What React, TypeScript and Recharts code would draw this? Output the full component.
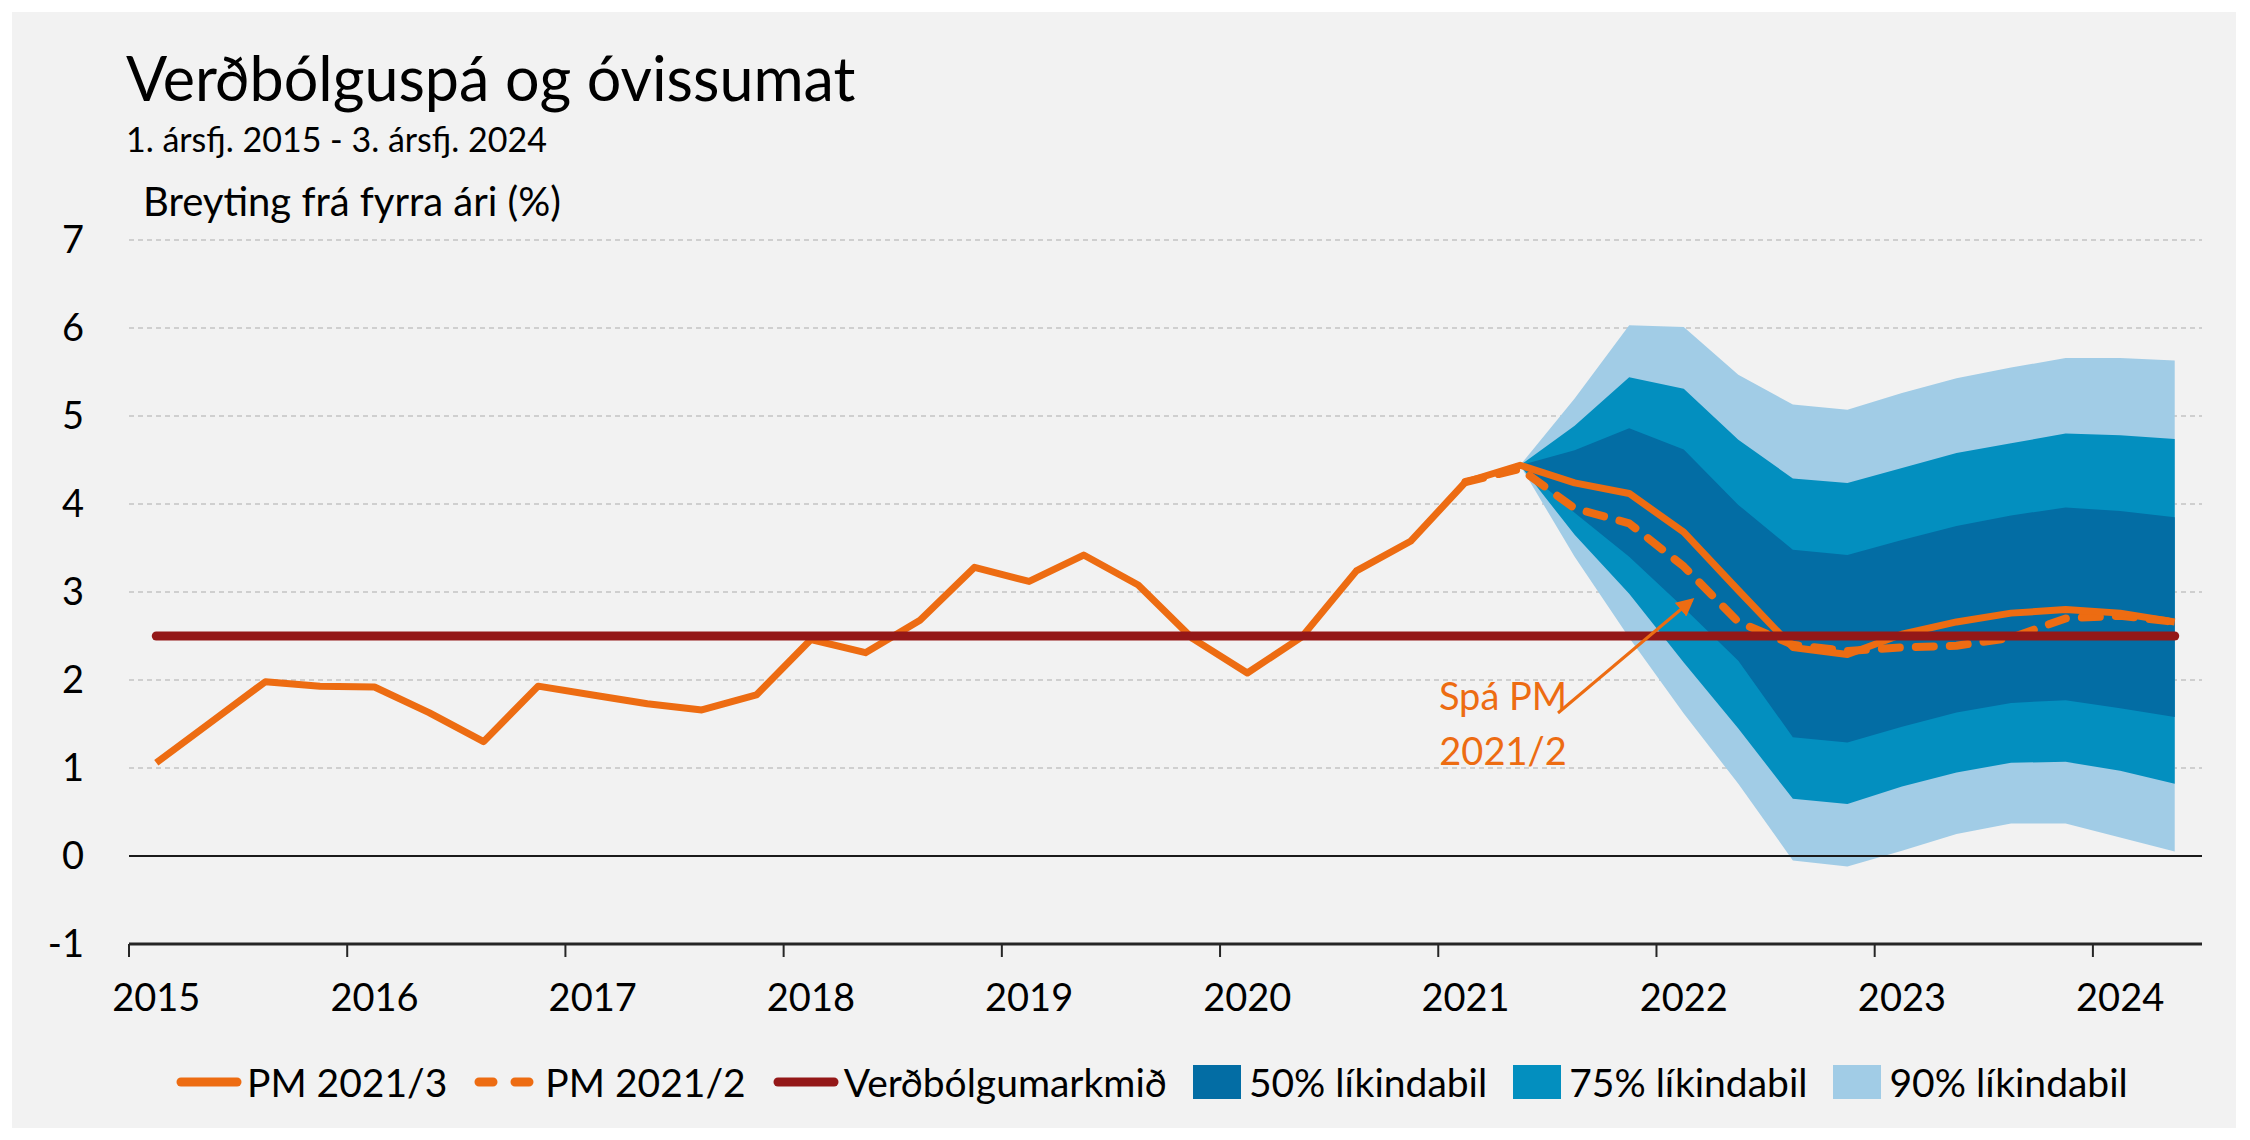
import React from "react";
import { ComposedChart, Area, Line, XAxis, YAxis, CartesianGrid, ReferenceLine } from "recharts";

const FONT = "Lato, 'Open Sans', sans-serif";

const YEARS = ["2015", "2016", "2017", "2018", "2019", "2020", "2021", "2022", "2023", "2024"];
const QUARTERS = YEARS.flatMap((y) => ["Q1", "Q2", "Q3", "Q4"].map((q) => `${y}${q}`)).slice(0, 38);
const Y_TICKS = [-1, 0, 1, 2, 3, 4, 5, 6, 7];

// PM 2021/3: actual + forecast, one value per quarter
const PM_2021_3 = [
  1.06, 1.52, 1.98, 1.93, 1.92, 1.63, 1.30, 1.93, 1.83, 1.73, 1.66, 1.83,
  2.46, 2.31, 2.68, 3.28, 3.12, 3.42, 3.08, 2.47, 2.08, 2.49, 3.24, 3.58,
  4.25, 4.44, 4.24, 4.12, 3.68, 3.02, 2.37, 2.29, 2.52, 2.66, 2.76, 2.80,
  2.76, 2.66,
];

// PM 2021/2 forecast, starts at 2021Q1
const DASH_START = 24;
const PM_2021_2 = [4.25, 4.40, 3.95, 3.78, 3.29, 2.66, 2.40, 2.33, 2.37, 2.39, 2.48, 2.70, 2.73, 2.66];

const TARGET = 2.5;

// fan chart, starts at 2021Q2
const FAN_START = 25;
const HI90 = [4.44, 5.20, 6.03, 6.01, 5.47, 5.13, 5.07, 5.26, 5.43, 5.55, 5.66, 5.66, 5.63];
const HI75 = [4.44, 4.89, 5.44, 5.31, 4.73, 4.29, 4.24, 4.41, 4.58, 4.69, 4.80, 4.78, 4.74];
const HI50 = [4.44, 4.61, 4.86, 4.62, 3.99, 3.48, 3.42, 3.59, 3.75, 3.87, 3.96, 3.92, 3.85];
const LO50 = [4.44, 3.90, 3.40, 2.82, 2.22, 1.35, 1.29, 1.47, 1.63, 1.74, 1.77, 1.68, 1.58];
const LO75 = [4.44, 3.65, 2.98, 2.20, 1.45, 0.65, 0.59, 0.79, 0.95, 1.06, 1.07, 0.97, 0.82];
const LO90 = [4.44, 3.40, 2.48, 1.62, 0.82, -0.05, -0.12, 0.06, 0.25, 0.37, 0.37, 0.21, 0.05];

const ORANGE = "#ED6C12";
const RED = "#941818";
const C50 = "#036DA4";
const C75 = "#038FBF";
const C90 = "#A1CCE6";

const data = QUARTERS.map((q, i) => {
  const f = i - FAN_START;
  const fan = f >= 0 && f < HI90.length;
  const d = i - DASH_START;
  return {
    q,
    x: i + 0.5,
    pm3: PM_2021_3[i],
    pm2: d >= 0 && d < PM_2021_2.length ? PM_2021_2[d] : null,
    target: TARGET,
    b90: fan ? [LO90[f], HI90[f]] : null,
    b75: fan ? [LO75[f], HI75[f]] : null,
    b50: fan ? [LO50[f], HI50[f]] : null,
  };
});

const W = 2234;
const H = 1040;
const MARGIN = { top: 232, right: 40, bottom: 44, left: 41 };
const Y_W = 80;
const CAT_W = (W - MARGIN.left - MARGIN.right - Y_W) / QUARTERS.length;

function YearTick(props: any) {
  const { x, y, payload } = props;
  return (
    <text x={x + CAT_W / 2} y={y + 52} textAnchor="middle" fontFamily={FONT} fontSize={38} fill="#000">
      {YEARS[payload.value / 4]}
    </text>
  );
}

function LegendItem({ kind, color, label }: { kind: string; color: string; label: string }) {
  let sym;
  if (kind === "box") {
    sym = (
      <svg width={48} height={34} style={{ marginRight: 8 }}>
        <rect x={0} y={0} width={48} height={34} fill={color} />
      </svg>
    );
  } else {
    sym = (
      <svg width={68} height={16} style={{ marginRight: 4 }}>
        <line x1={6} y1={8} x2={62} y2={8} stroke={color} strokeWidth={9} strokeLinecap="round"
          strokeDasharray={kind === "dash" ? "14 22" : undefined} />
      </svg>
    );
  }
  return (
    <div style={{ display: "flex", alignItems: "center", marginRight: 26 }}>
      {sym}
      <span>{label}</span>
    </div>
  );
}

export default function App() {
  return (
    <div style={{ position: "relative", width: W, height: 1124, background: "#fff" }}>
      <div style={{ position: "absolute", left: 4, top: 4, width: 2224, height: 1116, background: "#F2F2F2" }} />
      <div style={{ position: "absolute", left: 0, top: 0 }}>
        <ComposedChart width={W} height={H} data={data} margin={MARGIN}>
          <CartesianGrid horizontal vertical={false} stroke="#C4C4C4" strokeWidth={1.5} strokeDasharray="5 4" />
          <XAxis
            dataKey="x"
            type="number"
            domain={[0, QUARTERS.length]}
            ticks={YEARS.map((_, i) => i * 4)}
            interval={0}
            height={60}
            tick={<YearTick />}
            tickSize={13}
            tickLine={{ stroke: "#262626", strokeWidth: 2 }}
            axisLine={{ stroke: "#262626", strokeWidth: 3 }}
          />
          <YAxis
            domain={[-1, 7]}
            ticks={Y_TICKS}
            interval={0}
            width={Y_W}
            axisLine={false}
            tickLine={false}
            tickSize={0}
            tickMargin={45}
            tick={{ fill: "#000", fontSize: 38, fontFamily: FONT }}
          />
          <Area dataKey="b90" type="linear" stroke="none" fill={C90} fillOpacity={1} dot={false} activeDot={false} isAnimationActive={false} />
          <Area dataKey="b75" type="linear" stroke="none" fill={C75} fillOpacity={1} dot={false} activeDot={false} isAnimationActive={false} />
          <Area dataKey="b50" type="linear" stroke="none" fill={C50} fillOpacity={1} dot={false} activeDot={false} isAnimationActive={false} />
          <ReferenceLine y={0} stroke="#1A1A1A" strokeWidth={2} />
          <Line dataKey="pm2" type="linear" stroke={ORANGE} strokeWidth={8} strokeDasharray="18 16" strokeLinecap="round"
            strokeLinejoin="round" dot={false} activeDot={false} isAnimationActive={false} />
          <Line dataKey="pm3" type="linear" stroke={ORANGE} strokeWidth={7} strokeLinejoin="round"
            dot={false} activeDot={false} isAnimationActive={false} />
          <Line dataKey="target" type="linear" stroke={RED} strokeWidth={9} strokeLinecap="round"
            dot={false} activeDot={false} isAnimationActive={false} />
        </ComposedChart>
      </div>
      <svg width={W} height={1124} style={{ position: "absolute", left: 0, top: 0, pointerEvents: "none" }}>
        <defs>
          <marker id="arrowhead" markerWidth="6" markerHeight="6" refX="5" refY="3" orient="auto" markerUnits="strokeWidth">
            <path d="M0,0 L6,3 L0,6 Z" fill={ORANGE} />
          </marker>
        </defs>
        <text x={118} y={93} fontFamily={FONT} fontSize={61} fill="#000">Verðbólguspá og óvissumat</text>
        <text x={118} y={144} fontFamily={FONT} fontSize={34} fill="#000">1. ársfj. 2015 - 3. ársfj. 2024</text>
        <text x={135} y={208} fontFamily={FONT} fontSize={40} fill="#000">Breyting frá fyrra ári (%)</text>
        <line x1={1550} y1={705} x2={1684} y2={592} stroke={ORANGE} strokeWidth={3} markerEnd="url(#arrowhead)" />
        <text x={1495} y={702} textAnchor="middle" fontFamily={FONT} fontSize={38} fill={ORANGE}>Spá PM</text>
        <text x={1495} y={757} textAnchor="middle" fontFamily={FONT} fontSize={38} fill={ORANGE}>2021/2</text>
      </svg>
      <div style={{ position: "absolute", left: 167, top: 1050, height: 48, display: "flex", alignItems: "center", fontFamily: FONT, fontSize: 39, color: "#000" }}>
        <LegendItem kind="line" color={ORANGE} label="PM 2021/3" />
        <LegendItem kind="dash" color={ORANGE} label="PM 2021/2" />
        <LegendItem kind="line" color={RED} label="Verðbólgumarkmið" />
        <LegendItem kind="box" color={C50} label="50% líkindabil" />
        <LegendItem kind="box" color={C75} label="75% líkindabil" />
        <LegendItem kind="box" color={C90} label="90% líkindabil" />
      </div>
    </div>
  );
}
